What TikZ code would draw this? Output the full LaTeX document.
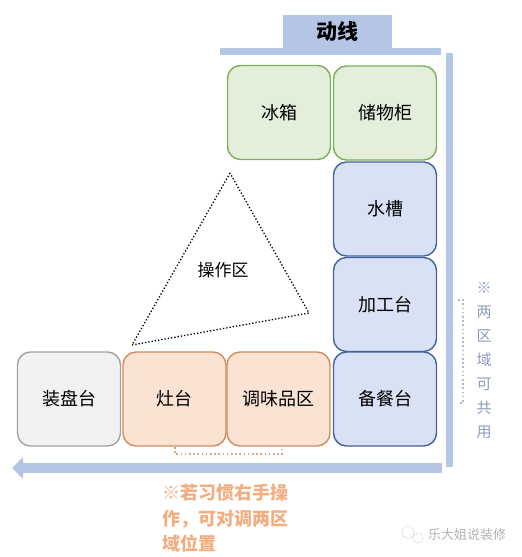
\documentclass[tikz,border=0pt]{standalone}
\usepackage{fontspec}
\newfontfamily\cjk{Noto Sans CJK SC}
\usepackage{xcolor}
\usepackage{tikz}
\usetikzlibrary{arrows.meta,positioning}
\definecolor{barblue}{HTML}{B4C5E6}
\definecolor{grnfill}{HTML}{E3EFDA}
\definecolor{grnline}{HTML}{7EAE56}
\definecolor{blufill}{HTML}{D9E2F4}
\definecolor{bluline}{HTML}{44629F}
\definecolor{orgfill}{HTML}{FBE3D4}
\definecolor{orgline}{HTML}{D08D5E}
\definecolor{gryfill}{HTML}{F2F2F2}
\definecolor{gryline}{HTML}{A3A3A3}
\definecolor{notegray}{HTML}{8E9CBA}
\definecolor{noteorg}{HTML}{F2AE80}
\tikzset{
  zone/.style={draw, line width=1.4pt, rounded corners=13pt, minimum width=103pt, minimum height=94pt, inner sep=0pt, align=center, font=\cjk\fontsize{18}{20}\selectfont},
  gzone/.style={zone, fill=grnfill, draw=grnline},
  bzone/.style={zone, fill=blufill, draw=bluline},
  ozone/.style={zone, fill=orgfill, draw=orgline},
  wzone/.style={zone, fill=gryfill, draw=gryline},
  bar/.style={fill=barblue, draw=none},
  bracket/.style={line width=1.8pt, dash pattern=on 1.6pt off 2.6pt},
}
\begin{document}
\begin{tikzpicture}[x=1pt, y=-1pt]
  \useasboundingbox (0,0) rectangle (522,557);
  % title and flow bars
  \node[bar, minimum width=109pt, minimum height=33pt, inner sep=0pt, font=\cjk\bfseries\fontsize{21}{24}\selectfont] (title) at (337.5,31.5) {动线};
  \fill[barblue] (220,48) rectangle (441,55);
  \fill[barblue] (446,53) rectangle (453,467);
  \coordinate (flowR) at (442,468);
  \coordinate (flowL) at (12,468);
  \draw[barblue, line width=10pt, -{Triangle[length=11pt, width=21pt]}] (flowR) -- (flowL);
  % cabinets
  \node[gzone] (fridge) at (279,112.5) {冰箱};
  \node[gzone] (store)  at (385,113)   {储物柜};
  \node[bzone] (sink)   at (385,209)   {水槽};
  \node[bzone] (prep)   at (385,304.5) {加工台};
  \node[bzone] (serve)  at (385,399)   {备餐台};
  \node[wzone] (plate)  at (69,399)    {装盘台};
  \node[ozone] (stove)  at (174.5,399) {灶台};
  \node[ozone] (spice)  at (278.5,399) {调味品区};
  % work triangle
  \coordinate (tA) at (230,173);
  \coordinate (tB) at (132,345);
  \coordinate (tC) at (309,313);
  \draw[line width=1.3pt, dotted] (tA) -- (tB) -- (tC) -- cycle;
  \node[font=\cjk\fontsize{17}{19}\selectfont] (work) at (223,270) {操作区};
  % notes
  \draw[bracket, notegray!70] (458,300) -- (463,300) -- (463,403) -- (458,403);
  \node[font=\cjk\fontsize{15}{17}\selectfont, text=notegray, align=center] (share) at (484,361) {※\\[7pt]两\\[7pt]区\\[7pt]域\\[7pt]可\\[7pt]共\\[7pt]用};
  \draw[bracket, orgline!80] (175,447) -- (175,454) -- (282,454) -- (282,447);
  \node[font=\cjk\bfseries\fontsize{18}{24.5}\selectfont, text=noteorg, align=left, anchor=north west, inner sep=0pt] (swap) at (162,484) {※若习惯右手操\\[1pt]作，可对调两区\\[1pt]域位置};
  % watermark
  \draw[gray!45, densely dotted, line width=0.8pt] (408,532) circle (6pt) (418,538) circle (5pt);
  \node[font=\cjk\fontsize{13}{15}\selectfont, text=gray!60, anchor=west, inner sep=0pt] (mark) at (428,535) {乐大姐说装修};
\end{tikzpicture}
\end{document}
